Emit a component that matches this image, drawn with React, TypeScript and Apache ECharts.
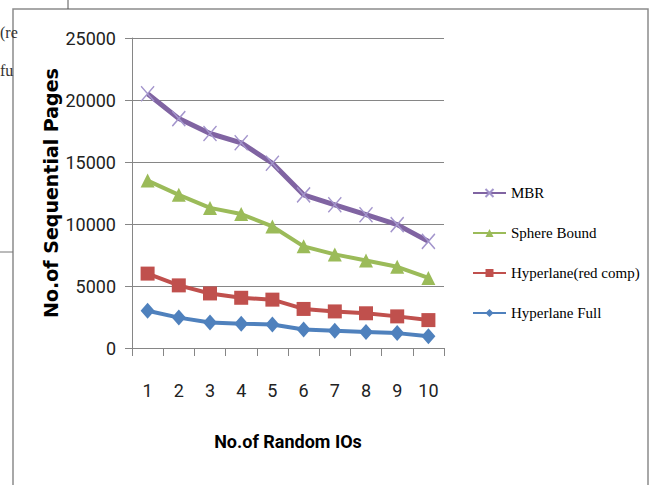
import React, { useEffect, useRef } from "react";
import * as echarts from "echarts";

const categories = ["1", "2", "3", "4", "5", "6", "7", "8", "9", "10"];
const mbr = [20500, 18500, 17300, 16550, 14900, 12350, 11550, 10750, 9950, 8600];
const sphereBound = [13500, 12350, 11300, 10800, 9800, 8200, 7550, 7050, 6550, 5650];
const hyperRed = [6000, 5050, 4400, 4050, 3900, 3150, 2950, 2800, 2550, 2250];
const hyperFull = [3000, 2450, 2050, 1950, 1900, 1500, 1400, 1300, 1200, 950];
const yTicks = [0, 5000, 10000, 15000, 20000, 25000];

const NARROW = "Roboto, 'Liberation Sans', sans-serif";

export default function App() {
  const ref = useRef<HTMLDivElement>(null);
  useEffect(() => {
    if (!ref.current) return;
    const chart = echarts.init(ref.current, undefined, { renderer: "svg" });
    const cross = "path://M0,0L10,10M10,0L0,10";
    chart.setOption({
      animation: false,
      backgroundColor: "#ffffff",
      grid: { left: 132, right: 209, top: 38, bottom: 137 },
      legend: {
        orient: "vertical",
        left: 472,
        top: 184,
        padding: 0,
        itemWidth: 33,
        itemHeight: 10,
        itemGap: 22,
        textStyle: { fontFamily: "'Liberation Serif', serif", fontSize: 15, color: "#000", lineHeight: 18 },
        data: ["MBR", "Sphere Bound", "Hyperlane(red comp)", "Hyperlane Full"],
      },
      xAxis: {
        type: "category",
        data: categories,
        boundaryGap: true,
        name: "No.of Random IOs",
        nameLocation: "middle",
        nameGap: 84,
        nameTextStyle: { fontFamily: NARROW, fontWeight: "bold", fontSize: 18, color: "#000" },
        axisLine: { lineStyle: { color: "#868686", width: 1 } },
        axisTick: { show: true, length: 8, lineStyle: { color: "#868686" } },
        axisLabel: { interval: 0, margin: 33, fontFamily: NARROW, fontSize: 18, color: "#222" },
      },
      yAxis: {
        type: "value",
        min: yTicks[0],
        max: yTicks[yTicks.length - 1],
        interval: 5000,
        name: "No.of Sequential Pages",
        nameLocation: "middle",
        nameGap: 72,
        nameTextStyle: { fontFamily: "'DejaVu Sans', sans-serif", fontWeight: "bold", fontSize: 19, color: "#000" },
        axisLine: { show: true, lineStyle: { color: "#868686", width: 1 } },
        axisTick: { show: true, length: 7, lineStyle: { color: "#868686" } },
        splitLine: { lineStyle: { color: "#868686", width: 1 } },
        axisLabel: {
          margin: 16,
          fontFamily: NARROW,
          fontSize: 18,
          color: "#222",
          formatter: (v: number) => String(v),
        },
      },
      series: [
        {
          name: "MBR",
          type: "line",
          data: mbr,
          symbol: cross,
          symbolSize: [13, 15],
          lineStyle: { color: "#8064A2", width: 5 },
          itemStyle: { color: "#A395CC", borderColor: "#A395CC", borderWidth: 1.5 },
          z: 4,
        },
        {
          name: "Sphere Bound",
          type: "line",
          data: sphereBound,
          symbol: "triangle",
          symbolSize: 14,
          lineStyle: { color: "#9BBB59", width: 4 },
          itemStyle: { color: "#9BBB59" },
        },
        {
          name: "Hyperlane(red comp)",
          type: "line",
          data: hyperRed,
          symbol: "rect",
          symbolSize: 14,
          lineStyle: { color: "#C0504D", width: 4 },
          itemStyle: { color: "#C0504D" },
        },
        {
          name: "Hyperlane Full",
          type: "line",
          data: hyperFull,
          symbol: "diamond",
          symbolSize: [14, 16],
          lineStyle: { color: "#4F81BD", width: 4 },
          itemStyle: { color: "#4F81BD" },
        },
      ],
      graphic: [
        {
          type: "rect",
          shape: { x: 13, y: 9, width: 635, height: 500 },
          style: { fill: "none", stroke: "#8c8c8c", lineWidth: 1.5 },
          silent: true,
        },
        { type: "line", shape: { x1: 68, y1: 0, x2: 68, y2: 9 }, style: { stroke: "#555", lineWidth: 1 } },
        { type: "line", shape: { x1: 0, y1: 252, x2: 13, y2: 252 }, style: { stroke: "#777", lineWidth: 1 } },
        { type: "text", x: 0, y: 24, style: { text: "(re", font: "16px 'Liberation Serif', serif", fill: "#333" } },
        { type: "text", x: 0, y: 62, style: { text: "fu", font: "16px 'Liberation Serif', serif", fill: "#333" } },
      ],
    });
    return () => chart.dispose();
  }, []);
  return <div ref={ref} style={{ position: "fixed", left: 0, top: 0, width: 653, height: 485 }} />;
}
